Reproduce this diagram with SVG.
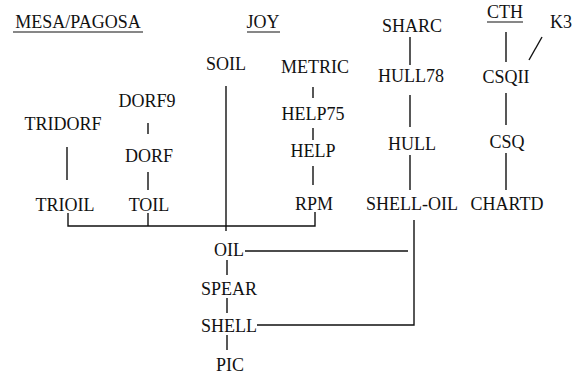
<svg xmlns="http://www.w3.org/2000/svg" width="585" height="374" viewBox="0 0 585 374">
<rect width="585" height="374" fill="#fff"/>
<g font-family="Liberation Serif" font-size="18" fill="#111" text-anchor="middle">
<g id="headers">
<text x="78" y="28">MESA/PAGOSA</text>
<text x="263" y="28">JOY</text>
<text x="505" y="18">CTH</text>
<g stroke="#111" stroke-width="1.2">
<line x1="13" y1="32" x2="143" y2="32"/>
<line x1="247" y1="32" x2="280" y2="32"/>
<line x1="487" y1="22" x2="523" y2="22"/>
</g>
</g>
<g id="n-soil"><text x="226" y="70">SOIL</text></g>
<g id="n-metric"><text x="315" y="73">METRIC</text></g>
<g id="n-help75"><text x="313" y="120">HELP75</text></g>
<g id="n-help"><text x="313" y="157">HELP</text></g>
<g id="n-rpm"><text x="314" y="210">RPM</text></g>
<g id="n-tridorf"><text x="63" y="130">TRIDORF</text></g>
<g id="n-dorf9"><text x="147" y="107">DORF9</text></g>
<g id="n-dorf"><text x="149" y="162">DORF</text></g>
<g id="n-trioil"><text x="65" y="211">TRIOIL</text></g>
<g id="n-toil"><text x="149" y="211">TOIL</text></g>
<g id="n-oil"><text x="229" y="256">OIL</text></g>
<g id="n-spear"><text x="229" y="295">SPEAR</text></g>
<g id="n-shell"><text x="229" y="332">SHELL</text></g>
<g id="n-pic"><text x="230" y="371">PIC</text></g>
<g id="n-sharc"><text x="412" y="32">SHARC</text></g>
<g id="n-hull78"><text x="411" y="82">HULL78</text></g>
<g id="n-hull"><text x="412" y="150">HULL</text></g>
<g id="n-shelloil"><text x="412" y="210">SHELL-OIL</text></g>
<g id="n-csqii"><text x="506" y="83">CSQII</text></g>
<g id="n-csq"><text x="507" y="148">CSQ</text></g>
<g id="n-chartd"><text x="507" y="210">CHARTD</text></g>
<g id="n-k3"><text x="561" y="28">K3</text></g>
</g>
<g id="connectors" stroke="#111" stroke-width="1.4" fill="none">
<line x1="67" y1="147" x2="67" y2="180"/>
<line x1="148" y1="123" x2="148" y2="134"/>
<line x1="148" y1="172" x2="148" y2="190"/>
<polyline points="68,213 68,226 315,226 315,212"/>
<line x1="148" y1="213" x2="148" y2="226"/>
<line x1="226" y1="86" x2="226" y2="231"/>
<line x1="313" y1="87" x2="313" y2="98"/>
<line x1="313" y1="128" x2="313" y2="140"/>
<line x1="313" y1="166" x2="313" y2="185"/>
<line x1="227" y1="260" x2="227" y2="275"/>
<line x1="227" y1="298" x2="227" y2="313"/>
<line x1="227" y1="335" x2="227" y2="350"/>
<line x1="245" y1="251" x2="408" y2="251"/>
<polyline points="257,325 414,325 414,220"/>
<line x1="410" y1="37" x2="410" y2="65"/>
<line x1="410" y1="95" x2="410" y2="127"/>
<line x1="410" y1="155" x2="410" y2="190"/>
<line x1="506" y1="32" x2="506" y2="62"/>
<line x1="506" y1="93" x2="506" y2="125"/>
<line x1="506" y1="153" x2="506" y2="190"/>
<line x1="542" y1="37" x2="529" y2="60"/>
</g>
</svg>
